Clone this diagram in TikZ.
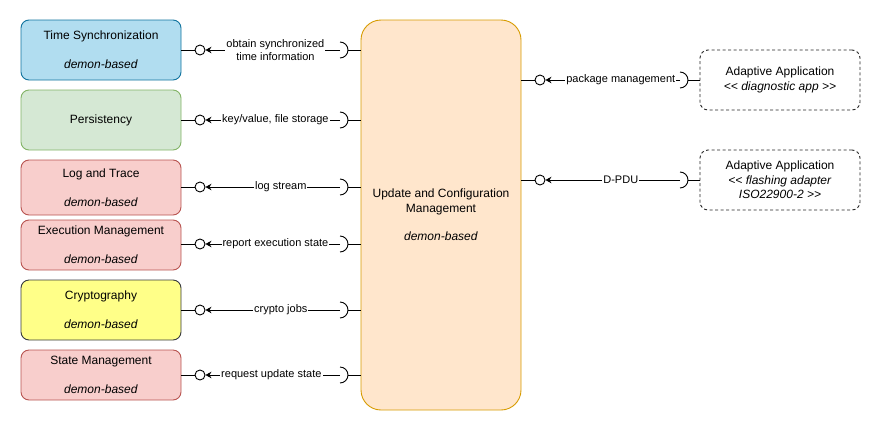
\documentclass[tikz,border=0pt]{standalone}
\usepackage{fontspec}
\setmainfont{Liberation Sans}
\usetikzlibrary{arrows.meta}
\definecolor{tsfill}{HTML}{B1DDF0}
\definecolor{tsline}{HTML}{10739E}
\definecolor{pfill}{HTML}{D5E8D4}
\definecolor{pline}{HTML}{82B366}
\definecolor{rfill}{HTML}{F8CECC}
\definecolor{rline}{HTML}{B85450}
\definecolor{yfill}{HTML}{FFFF88}
\definecolor{yline}{HTML}{36393D}
\definecolor{ofill}{HTML}{FFE6CC}
\definecolor{oline}{HTML}{D79B00}
\newcommand\myltlt{<\kern0pt<}
\newcommand\mygtgt{>\kern0pt>}
\begin{document}
\begin{tikzpicture}[x=1pt,y=-1pt,
  comp/.style={draw, rounded corners=8pt, minimum width=160pt, minimum height=60pt,
    inner sep=0pt, align=center, font=\fontsize{12}{14.4}\selectfont, line width=0.9pt},
  ball/.style={draw, fill=white, circle, minimum size=10pt, inner sep=0pt, line width=0.9pt},
  lbl/.style={fill=white, inner sep=1pt, font=\fontsize{11}{13.2}\selectfont, align=center},
  wire/.style={line width=0.9pt},
  req/.style={wire, -{Stealth[length=6pt,width=6.5pt]}},
  appbox/.style={comp, draw=black!85, fill=white, dash pattern=on 3pt off 2.5pt},
]
\useasboundingbox (0,0) rectangle (881,432);

% left components
\node[comp, fill=tsfill, draw=tsline] (ts) at (101,50) {Time Synchronization\\\mbox{}\\\textit{demon-based}};
\node[comp, fill=pfill, draw=pline] (ps) at (101,120) {Persistency};
\node[comp, fill=rfill, draw=rline, minimum height=55pt] (lt) at (101,187.5) {Log and Trace\\\mbox{}\\\textit{demon-based}};
\node[comp, fill=rfill, draw=rline, minimum height=50pt] (em) at (101,245) {Execution Management\\\mbox{}\\\textit{demon-based}};
\node[comp, fill=yfill, draw=yline] (cr) at (101,310) {Cryptography\\\mbox{}\\\textit{demon-based}};
\node[comp, fill=rfill, draw=rline, minimum height=50pt] (sm) at (101,375) {State Management\\\mbox{}\\\textit{demon-based}};

% central component
\node[comp, fill=ofill, draw=oline, rounded corners=20pt, minimum height=390pt] (ucm) at (441,215)
  {Update and Configuration\\Management\\\mbox{}\\\textit{demon-based}};

% right applications
\node[appbox] (app1) at (780,80) {Adaptive Application\\\textit{\myltlt{} diagnostic app \mygtgt}};
\node[appbox] (app2) at (780,180) {Adaptive Application\\\textit{\myltlt{} flashing adapter}\\\textit{ISO22900-2 \mygtgt}};

% left interfaces
\foreach \n/\yy/\p/\t in {
  ts/50/0.48/{obtain synchronized\\time information},
  ps/120/0.48/{key/value, file storage},
  lt/187/0.44/{log stream},
  em/244/0.48/{report execution state},
  cr/310/0.44/{crypto jobs},
  sm/375/0.51/{request update state}}{
  \node[ball] (b\n) at (200,\yy) {};
  \coordinate (s\n) at (340,\yy);
  \draw[wire] (\n.east |- b\n) -- (b\n.west);
  \draw[req] (s\n) -- node[lbl,pos=\p]{\t} (b\n.east);
  \draw[wire] ([yshift=8pt]s\n) arc[start angle=90, end angle=-90, radius=8pt];
  \draw[wire] ([xshift=8pt]s\n) -- (s\n -| ucm.west);
}

% right interfaces
\foreach \n/\a/\yy/\t in {pm/app1/80/{package management}, dp/app2/180/{D-PDU}}{
  \node[ball] (b\n) at (540,\yy) {};
  \coordinate (s\n) at (680,\yy);
  \draw[wire] (ucm.east |- b\n) -- (b\n.west);
  \draw[req] (s\n) -- node[lbl,pos=0.44]{\t} (b\n.east);
  \draw[wire] ([yshift=8pt]s\n) arc[start angle=90, end angle=-90, radius=8pt];
  \draw[wire] ([xshift=8pt]s\n) -- (\a.west |- s\n);
}
\end{tikzpicture}
\end{document}
